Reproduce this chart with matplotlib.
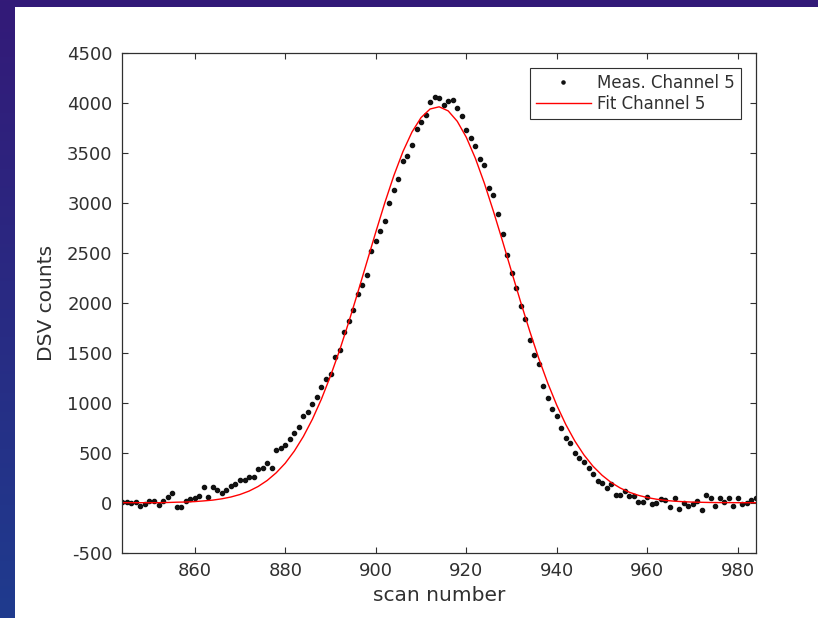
import numpy as np
import matplotlib
matplotlib.use('Agg')
import matplotlib.pyplot as plt
from matplotlib.patches import Rectangle

plt.rcParams['axes.unicode_minus'] = False

# Measured DSV counts, one value per scan number (844 .. 984)
scan = np.arange(844, 985)
meas_counts = [
    10, 10, 0, 4, -30, -16,                                   # 844-849
    20, 14, -20, 14, 54, 100, -40, -40, 20, 40,               # 850-859
    44, 67, 157, 54, 154, 130, 97, 127, 167, 184,             # 860-869
    227, 224, 260, 257, 334, 344, 394, 344, 524, 550,         # 870-879
    574, 637, 694, 754, 868, 910, 985, 1062, 1162, 1240,      # 880-889
    1290, 1457, 1530, 1704, 1820, 1924, 2084, 2180, 2274, 2522,  # 890-899
    2620, 2720, 2820, 2997, 3130, 3240, 3420, 3464, 3577, 3734,  # 900-909
    3807, 3877, 4005, 4058, 4044, 3977, 4018, 4030, 3944, 3870,  # 910-919
    3730, 3644, 3567, 3434, 3377, 3144, 3074, 2890, 2687, 2482,  # 920-929
    2302, 2144, 1967, 1840, 1630, 1480, 1390, 1164, 1050, 934,   # 930-939
    870, 750, 650, 594, 494, 450, 410, 347, 287, 217,         # 940-949
    194, 144, 184, 77, 77, 120, 67, 67, 10, 10,               # 950-959
    54, -13, 0, 34, 24, -43, 47, -60, 0, -36,                 # 960-969
    -16, 20, -70, 74, 50, -33, 50, 4, 50, -36,                # 970-979
    50, -13, -6, 30, 50,                                      # 980-984
]

# Fit curve every 2 scan numbers
fit_scan = np.arange(844, 985, 2)
fit_counts = [
    0, 0, 0, 0, 0, 2, 5, 7, 11, 18,
    26, 39, 57, 82, 116, 162, 222, 299, 395, 516,
    662, 835, 1037, 1268, 1523, 1802, 2098, 2402, 2706, 3000,
    3272, 3511, 3707, 3851, 3937, 3959, 3918, 3814, 3654, 3444,
    3193, 2913, 2616, 2310, 2008, 1717, 1444, 1195, 973, 780,
    615, 477, 364, 274, 202, 147, 105, 74, 51, 35,
    23, 15, 10, 6, 4, 2, 1, 1, 0, 0,
    0,
]

y_ticks = [-500, 0, 500, 1000, 1500, 2000, 2500, 3000, 3500, 4000, 4500]
x_ticks = [860, 880, 900, 920, 940, 960, 980]

TXT = '#303030'

fig = plt.figure(figsize=(8.18, 6.18), dpi=100)

# slide background: purple -> blue gradient, white panel on top
bg = fig.add_axes([0, 0, 1, 1], zorder=-10)
grad = np.linspace(0, 1, 256).reshape(-1, 1)
top_c = np.array([0x33, 0x1a, 0x78]) / 255.0
bot_c = np.array([0x1f, 0x3b, 0x8e]) / 255.0
img = top_c[None, None, :] * (1 - grad[:, :, None]) + bot_c[None, None, :] * grad[:, :, None]
bg.imshow(img, aspect='auto', extent=[0, 1, 0, 1], origin='upper')
bg.add_patch(Rectangle((15 / 818, 0), 1 - 15 / 818, (618 - 7) / 618,
                       facecolor='white', edgecolor='none'))
bg.set_xlim(0, 1)
bg.set_ylim(0, 1)
bg.axis('off')

ax = fig.add_axes([122.3 / 818, 65.3 / 618, (756 - 122.3) / 818, 500 / 618])
ax.plot(scan, meas_counts, linestyle='none', marker='.', markersize=6,
        color='#111111', label='Meas. Channel 5')
ax.plot(fit_scan, fit_counts, color='red', linewidth=1.0, label='Fit Channel 5')

ax.set_xlim(844, 984)
ax.set_ylim(-500, 4500)
ax.set_xticks(x_ticks)
ax.set_yticks(y_ticks)
ax.tick_params(direction='in', length=4.5, width=0.8, colors=TXT,
               labelsize=13, top=True, right=True, pad=7)
for sp in ax.spines.values():
    sp.set_color(TXT)
    sp.set_linewidth(0.9)

ax.set_xlabel('scan number', fontsize=14.5, color=TXT, labelpad=4)
ax.set_ylabel('DSV counts', fontsize=14.5, color=TXT, labelpad=8)

leg = ax.legend(loc='upper right', fontsize=12, frameon=True, fancybox=False,
                framealpha=1, edgecolor=TXT, borderpad=0.35, labelspacing=0.2,
                handlelength=3.3, handletextpad=0.4, borderaxespad=0.9,
                markerscale=0.75)
leg.get_frame().set_linewidth(0.8)
for t in leg.get_texts():
    t.set_color(TXT)

plt.savefig('out.png', dpi=100, facecolor=fig.get_facecolor())
plt.close()
